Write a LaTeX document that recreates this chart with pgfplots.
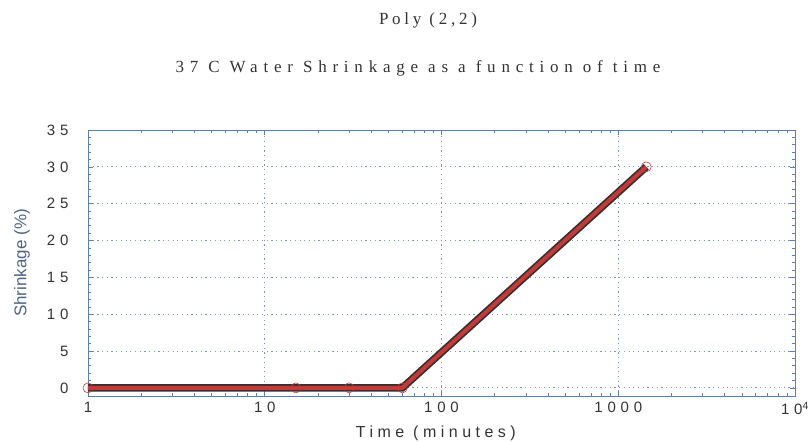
\documentclass[border=0pt]{standalone}
\usepackage{fontspec}
\setmainfont{Liberation Serif}
\setsansfont{Liberation Sans}
\newfontfamily\ticksf[LetterSpace=32]{Liberation Sans}
\newfontfamily\labsf[LetterSpace=28]{Liberation Sans}
\newfontfamily\titlefont[LetterSpace=34]{Liberation Serif}
\newfontfamily\titlefonta[LetterSpace=22]{Liberation Serif}
\usepackage{pgfplots}
\pgfplotsset{compat=1.18}
\definecolor{axblue}{HTML}{5B7FB5}
\definecolor{gridc}{HTML}{7F95C0}
\definecolor{linedark}{HTML}{3A2E2E}
\definecolor{linered}{HTML}{C23A3A}
\definecolor{labc}{HTML}{4F6485}
\definecolor{tickc}{HTML}{333333}
\pgfplotstableread{
x y
1 0
15 0
30 0
60 0
1440 30
}\shrink
\begin{document}
\begin{tikzpicture}
\path[use as bounding box] (-88bp,-46bp) rectangle (723bp,396bp);
\begin{axis}[
  at={(0,0)}, anchor=south west, scale only axis,
  width=707bp, height=266bp,
  xmode=log, xmin=1, xmax=10000, ymin=-1.1, ymax=35,
  xtick={1,10,100,1000,10000},
  xticklabels={1,10,100,1000,10\textsuperscript{4}},
  minor xtick={2,3,4,5,6,7,8,9,20,30,40,50,60,70,80,90,200,300,400,500,600,700,800,900,2000,3000,4000,5000,6000,7000,8000,9000},
  ytick={0,5,...,35},
  minor y tick num=4,
  tick align=inside,
  axis line style={axblue, line width=0.8pt},
  every tick/.style={axblue, line width=0.6pt},
  major tick length=5bp, minor tick length=3bp,
  grid=major, major grid style={gridc, dash pattern=on 1.2bp off 3.5bp, line width=0.8pt},
  ticklabel style={font=\ticksf\fontsize{15bp}{17bp}\selectfont, text=tickc},
  /pgf/number format/assume math mode=true,
  xticklabel style={yshift=-3bp},
  yticklabel style={xshift=-16bp},
  xlabel={Time (minutes)}, ylabel={Shrinkage (\%)},
  xlabel style={at={(axis description cs:0.492,-0.139)}, anchor=center, font=\labsf\fontsize{16bp}{18bp}\selectfont, text=tickc},
  ylabel style={at={(axis description cs:-0.0933,0.5)}, anchor=center, font=\sffamily\fontsize{17bp}{19bp}\selectfont, text=labc},
]
\addplot[linered, only marks, mark=o, mark size=5bp, mark options={line width=0.6pt}] table {\shrink};
\addplot[linedark, line width=7.5bp, no marks] table {\shrink};
\addplot[linered, line width=4bp, no marks] table {\shrink};
\end{axis}
\node[font=\titlefonta\fontsize{17bp}{19bp}\selectfont, text=black!80] at (340bp,376bp) {Poly (2,2)};
\node[font=\titlefont\fontsize{17bp}{19bp}\selectfont, text=black!80] at (330bp,328bp) {37 C Water Shrinkage as a function of time};
\end{tikzpicture}
\end{document}
